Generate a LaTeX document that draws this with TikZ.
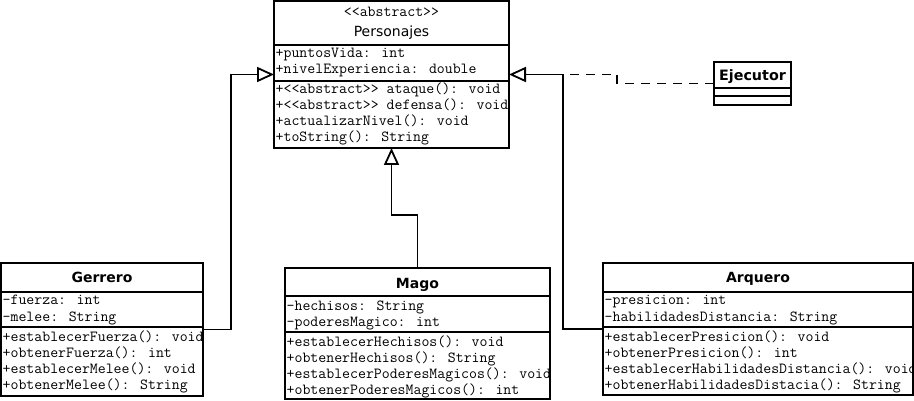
\documentclass[tikz,border=0pt]{standalone}
\usepackage{fontspec}
\newfontfamily\monof{Latin Modern Mono}[Ligatures=ResetAll]
\newfontfamily\titlef{DejaVu Sans}
\usetikzlibrary{arrows.meta}
\tikzset{
  frame/.style={draw, line width=1.8pt, inner sep=0pt, outer sep=0pt, fill=none},
  sepline/.style={line width=1.8pt},
  mono/.style={font=\monof\fontsize{15.4}{16}\selectfont, inner sep=0pt, anchor=base west},
  ttl/.style={font=\titlef\bfseries\fontsize{14}{16}\selectfont, inner sep=0pt, anchor=base},
  inh/.style={line width=1.8pt, -{Triangle[open, length=17pt, width=15pt]}},
  realz/.style={line width=1.8pt, dash pattern=on 9pt off 7pt},
}
\begin{document}
\begin{tikzpicture}[x=1pt, y=-1pt]
\useasboundingbox (0,0) rectangle (914,401);

% ---------- Personajes ----------
\begin{scope}
\clip (274,1) rectangle (509,148);
\node[mono, anchor=base] (pabs) at (391.5,17) {<\kern0pt<abstract>\kern0pt>};
\node[font=\titlef\fontsize{14}{16}\selectfont, inner sep=0pt, anchor=base] (ptitle) at (391.5,37) {Personajes};
\node[mono] (pa1) at (275.5,58) {+puntosVida: int};
\node[mono] (pa2) at (275.5,74) {+nivelExperiencia: double};
\node[mono] (pm1) at (275.5,94) {+<\kern0pt<abstract>\kern0pt> ataque(): void};
\node[mono] (pm2) at (275.5,110) {+<\kern0pt<abstract>\kern0pt> defensa(): void};
\node[mono] (pm3) at (275.5,126) {+actualizarNivel(): void};
\node[mono] (pm4) at (275.5,142) {+toString(): String};
\end{scope}
\draw[sepline] (274,45) -- (509,45);
\draw[sepline] (274,81) -- (509,81);
\node[frame, minimum width=235pt, minimum height=147pt] (pers) at (391.5,74.5) {};

% ---------- Ejecutor ----------
\node[ttl, font=\titlef\bfseries\fontsize{14.3}{17}\selectfont] (etitle) at (752.5,81) {Ejecutor};
\draw[sepline] (714,88) -- (791,88);
\draw[sepline] (714,96) -- (791,96);
\node[frame, minimum width=77pt, minimum height=43pt] (ejec) at (752.5,83.5) {};

% ---------- Gerrero ----------
\begin{scope}
\clip (1,263) rectangle (203,396);
\node[ttl] (gtitle) at (102,283) {Gerrero};
\node[mono] (ga1) at (2.5,305) {-fuerza: int};
\node[mono] (ga2) at (2.5,321) {-melee: String};
\node[mono] (gm1) at (2.5,341) {+establecerFuerza(): void};
\node[mono] (gm2) at (2.5,357) {+obtenerFuerza(): int};
\node[mono] (gm3) at (2.5,373) {+establecerMelee(): void};
\node[mono] (gm4) at (2.5,389) {+obtenerMelee(): String};
\end{scope}
\draw[sepline] (1,292) -- (203,292);
\draw[sepline] (1,327) -- (203,327);
\node[frame, minimum width=202pt, minimum height=133pt] (ger) at (102,329.5) {};

% ---------- Mago ----------
\begin{scope}
\clip (285,268) rectangle (550,399);
\node[ttl] (mtitle) at (417.5,288) {Mago};
\node[mono] (ma1) at (286.5,310) {-hechisos: String};
\node[mono] (ma2) at (286.5,326) {-poderesMagico: int};
\node[mono] (mm1) at (286.5,346) {+establecerHechisos(): void};
\node[mono] (mm2) at (286.5,362) {+obtenerHechisos(): String};
\node[mono] (mm3) at (286.5,378) {+establecerPoderesMagicos(): void};
\node[mono] (mm4) at (286.5,394) {+obtenerPoderesMagicos(): int};
\end{scope}
\draw[sepline] (285,296) -- (550,296);
\draw[sepline] (285,332) -- (550,332);
\node[frame, minimum width=265pt, minimum height=131pt] (mago) at (417.5,333.5) {};

% ---------- Arquero ----------
\begin{scope}
\clip (603,263) rectangle (913,395);
\node[ttl] (atitle) at (758,283) {Arquero};
\node[mono] (aa1) at (604.5,305) {-presicion: int};
\node[mono] (aa2) at (604.5,321) {-habilidadesDistancia: String};
\node[mono] (am1) at (604.5,341) {+establecerPresicion(): void};
\node[mono] (am2) at (604.5,357) {+obtenerPresicion(): int};
\node[mono] (am3) at (604.5,373) {+establecerHabilidadesDistancia(): void};
\node[mono] (am4) at (604.5,389) {+obtenerHabilidadesDistacia(): String};
\end{scope}
\draw[sepline] (603,292) -- (913,292);
\draw[sepline] (603,327) -- (913,327);
\node[frame, minimum width=310pt, minimum height=132pt] (arq) at (758,329) {};

% ---------- Connectors ----------
\draw[inh] (ger.east) -- ++(28,0) |- (pers.west);
\draw[inh] (mago.north) -- ++(0,-53) -| (pers.south);
\draw[inh] (arq.west) -- ++(-40,0) |- (pers.east);
\coordinate (jn) at (563,74.5);
\draw[realz] (ejec.west) -- ++(-97,0) |- (jn);
\end{tikzpicture}
\end{document}
